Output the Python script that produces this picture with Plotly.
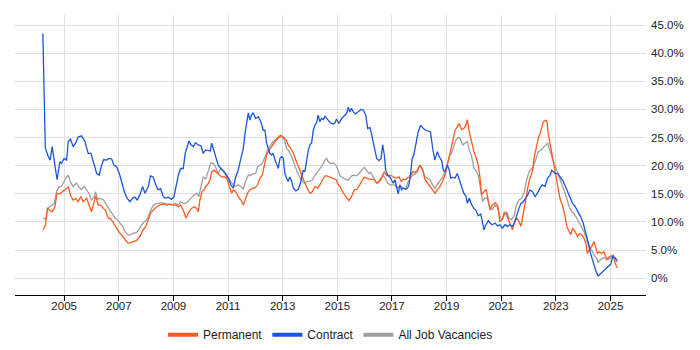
import plotly.graph_objects as go

# ---- data (decimal years, percent) ----
perm_x = [2004.23, 2004.32, 2004.39, 2004.48, 2004.56, 2004.66, 2004.74, 2004.84, 2004.93, 2005.03,
          2005.15, 2005.25, 2005.33, 2005.42, 2005.51, 2005.61, 2005.70, 2005.82, 2005.90, 2006.00,
          2006.10, 2006.15, 2006.25, 2006.34, 2006.43, 2006.51, 2006.61, 2006.71, 2006.77, 2006.86,
          2006.94, 2007.04, 2007.14, 2007.22, 2007.34, 2007.43, 2007.53, 2007.65, 2007.77, 2007.89,
          2007.99, 2008.08, 2008.16, 2008.26, 2008.38, 2008.50, 2008.63, 2008.75, 2008.87, 2008.99,
          2009.09, 2009.18, 2009.26, 2009.36, 2009.46, 2009.57, 2009.66, 2009.76, 2009.85, 2009.91,
          2009.97, 2010.05, 2010.13, 2010.18, 2010.25, 2010.34, 2010.40, 2010.49, 2010.58, 2010.66,
          2010.76, 2010.86, 2010.95, 2011.03, 2011.13, 2011.19, 2011.28, 2011.37, 2011.47, 2011.56,
          2011.64, 2011.71, 2011.80, 2011.89, 2011.98, 2012.08, 2012.17, 2012.25, 2012.33, 2012.41,
          2012.51, 2012.59, 2012.65, 2012.75, 2012.84, 2012.92, 2013.02, 2013.12, 2013.20, 2013.29,
          2013.39, 2013.48, 2013.57, 2013.66, 2013.73, 2013.81, 2013.90, 2014.00, 2014.09, 2014.18,
          2014.27, 2014.36, 2014.46, 2014.55, 2014.63, 2014.73, 2014.83, 2014.95, 2015.05, 2015.10,
          2015.22, 2015.34, 2015.42, 2015.52, 2015.62, 2015.71, 2015.79, 2015.89, 2015.99, 2016.07,
          2016.16, 2016.25, 2016.35, 2016.44, 2016.52, 2016.62, 2016.72, 2016.80, 2016.89, 2016.99,
          2017.08, 2017.17, 2017.26, 2017.33, 2017.41, 2017.50, 2017.57, 2017.66, 2017.76, 2017.84,
          2017.93, 2018.02, 2018.12, 2018.21, 2018.29, 2018.39, 2018.49, 2018.57, 2018.66, 2018.76,
          2018.85, 2018.94, 2019.03, 2019.10, 2019.18, 2019.24, 2019.31, 2019.39, 2019.46, 2019.55,
          2019.63, 2019.71, 2019.76, 2019.83, 2019.92, 2020.00, 2020.07, 2020.16, 2020.22, 2020.28,
          2020.37, 2020.44, 2020.50, 2020.59, 2020.67, 2020.77, 2020.87, 2020.95, 2021.04, 2021.11,
          2021.20, 2021.28, 2021.36, 2021.41, 2021.48, 2021.56, 2021.65, 2021.72, 2021.81, 2021.89,
          2021.97, 2022.05, 2022.14, 2022.21, 2022.30, 2022.36, 2022.42, 2022.48, 2022.54, 2022.63,
          2022.68, 2022.72, 2022.79, 2022.87, 2022.94, 2022.99, 2023.07, 2023.15, 2023.24, 2023.33,
          2023.40, 2023.46, 2023.54, 2023.61, 2023.70, 2023.79, 2023.86, 2023.94, 2024.03, 2024.10,
          2024.15, 2024.22, 2024.31, 2024.40, 2024.47, 2024.52, 2024.59, 2024.68, 2024.76, 2024.86,
          2024.96, 2025.04, 2025.10, 2025.17, 2025.25]
perm_y = [8.6, 9.5, 12.4, 12.1, 11.8, 12.7, 15.1, 15.0, 15.4, 15.7,
          16.2, 14.5, 13.9, 14.2, 13.6, 14.5, 13.6, 14.2, 13.0, 11.8,
          13.6, 14.6, 13.0, 13.0, 12.4, 12.1, 10.7, 10.5, 10.1, 9.2,
          8.7, 8.0, 7.4, 6.8, 6.2, 6.3, 6.5, 6.7, 7.4, 8.6,
          9.2, 10.4, 11.5, 12.1, 12.7, 13.0, 13.2, 13.0, 13.2, 13.0,
          13.0, 12.7, 13.0, 12.1, 10.7, 11.8, 12.4, 12.7, 12.4, 11.8,
          13.9, 15.4, 15.7, 16.3, 16.6, 17.5, 18.9, 19.2, 18.8, 18.3,
          18.0, 18.0, 17.8, 16.6, 15.1, 15.7, 15.4, 14.5, 13.9, 13.0,
          14.2, 15.1, 15.7, 16.0, 16.0, 16.6, 17.8, 18.3, 20.1, 21.9,
          22.8, 23.4, 23.7, 24.6, 25.1, 25.4, 25.1, 24.6, 23.7, 23.1,
          22.2, 21.0, 19.8, 18.6, 17.8, 16.9, 16.0, 15.1, 15.4, 16.3,
          16.0, 16.6, 17.5, 18.2, 18.2, 17.9, 17.8, 17.5, 16.5, 16.3,
          15.1, 14.2, 13.8, 14.5, 15.7, 15.8, 16.3, 17.2, 17.9, 17.8,
          17.6, 17.6, 17.5, 16.9, 17.2, 17.9, 18.9, 18.2, 18.3, 18.2,
          17.9, 17.8, 18.0, 17.2, 17.6, 17.5, 17.9, 18.0, 18.9, 18.8,
          19.2, 20.1, 19.2, 17.5, 16.9, 16.3, 15.7, 15.1, 15.7, 16.3,
          17.2, 18.3, 20.1, 21.6, 23.1, 24.6, 26.3, 26.9, 27.5, 26.4,
          26.6, 27.2, 28.2, 26.0, 24.0, 22.5, 21.6, 20.1, 18.0, 14.8,
          15.4, 15.8, 14.5, 12.1, 13.0, 13.4, 13.0, 10.1, 10.4, 11.8,
          11.2, 10.1, 9.2, 8.6, 9.8, 10.7, 10.1, 9.2, 11.5, 14.2,
          16.0, 17.8, 18.9, 21.6, 23.7, 24.9, 25.7, 26.9, 27.8, 28.1,
          27.8, 25.7, 24.0, 21.9, 20.1, 18.6, 16.3, 14.2, 13.0, 11.2,
          9.2, 8.6, 7.7, 8.9, 8.3, 7.4, 7.9, 7.7, 7.1, 6.2,
          4.4, 5.0, 5.6, 6.5, 5.3, 4.4, 4.7, 4.4, 4.7, 3.3,
          3.8, 4.0, 4.1, 2.7, 1.8]

cont_x = [2004.22, 2004.31, 2004.42, 2004.49, 2004.56, 2004.66, 2004.74, 2004.84, 2004.90, 2005.00,
          2005.09, 2005.15, 2005.23, 2005.33, 2005.42, 2005.51, 2005.64, 2005.76, 2005.88, 2005.98,
          2006.06, 2006.19, 2006.28, 2006.37, 2006.45, 2006.55, 2006.64, 2006.74, 2006.82, 2006.92,
          2007.02, 2007.10, 2007.22, 2007.31, 2007.41, 2007.50, 2007.59, 2007.67, 2007.77, 2007.87,
          2007.96, 2008.08, 2008.16, 2008.26, 2008.35, 2008.44, 2008.53, 2008.63, 2008.69, 2008.81,
          2008.93, 2009.02, 2009.09, 2009.18, 2009.26, 2009.36, 2009.43, 2009.51, 2009.57, 2009.64,
          2009.73, 2009.81, 2009.91, 2010.01, 2010.09, 2010.18, 2010.27, 2010.35, 2010.40, 2010.46,
          2010.52, 2010.58, 2010.64, 2010.74, 2010.82, 2010.91, 2011.01, 2011.10, 2011.19, 2011.27,
          2011.37, 2011.47, 2011.56, 2011.62, 2011.68, 2011.74, 2011.80, 2011.86, 2011.92, 2012.01,
          2012.11, 2012.20, 2012.29, 2012.35, 2012.41, 2012.47, 2012.53, 2012.59, 2012.65, 2012.72,
          2012.78, 2012.84, 2012.90, 2012.96, 2013.02, 2013.08, 2013.14, 2013.20, 2013.26, 2013.33,
          2013.39, 2013.48, 2013.57, 2013.63, 2013.69, 2013.75, 2013.81, 2013.87, 2013.94, 2014.00,
          2014.06, 2014.12, 2014.18, 2014.24, 2014.30, 2014.36, 2014.42, 2014.49, 2014.55, 2014.61,
          2014.67, 2014.75, 2014.85, 2014.91, 2014.97, 2015.06, 2015.16, 2015.25, 2015.34, 2015.40,
          2015.46, 2015.52, 2015.58, 2015.67, 2015.77, 2015.86, 2015.95, 2016.04, 2016.11, 2016.19,
          2016.25, 2016.32, 2016.38, 2016.44, 2016.52, 2016.60, 2016.66, 2016.72, 2016.77, 2016.84,
          2016.93, 2016.99, 2017.05, 2017.11, 2017.17, 2017.23, 2017.29, 2017.35, 2017.41, 2017.50,
          2017.57, 2017.62, 2017.69, 2017.74, 2017.80, 2017.88, 2017.96, 2018.05, 2018.15, 2018.24,
          2018.33, 2018.41, 2018.49, 2018.57, 2018.66, 2018.73, 2018.82, 2018.88, 2018.94, 2019.03,
          2019.10, 2019.15, 2019.22, 2019.31, 2019.39, 2019.46, 2019.55, 2019.63, 2019.71, 2019.76,
          2019.83, 2019.92, 2020.00, 2020.07, 2020.16, 2020.25, 2020.32, 2020.37, 2020.44, 2020.53,
          2020.59, 2020.67, 2020.77, 2020.87, 2020.95, 2021.04, 2021.14, 2021.23, 2021.32, 2021.41,
          2021.48, 2021.56, 2021.63, 2021.72, 2021.81, 2021.89, 2021.97, 2022.05, 2022.14, 2022.24,
          2022.33, 2022.42, 2022.50, 2022.60, 2022.70, 2022.79, 2022.85, 2022.91, 2022.99, 2023.07,
          2023.15, 2023.27, 2023.40, 2023.52, 2023.61, 2023.70, 2023.82, 2023.91, 2024.00, 2024.10,
          2024.19, 2024.27, 2024.37, 2024.47, 2024.55, 2024.68, 2024.80, 2024.92, 2025.01, 2025.08,
          2025.17, 2025.25]
cont_y = [43.5, 23.1, 21.6, 21.0, 23.4, 19.8, 17.5, 20.7, 20.4, 21.3,
          21.0, 24.3, 24.7, 23.4, 24.0, 25.1, 25.3, 24.3, 22.2, 22.2,
          20.7, 18.6, 18.3, 20.1, 21.1, 21.0, 21.3, 21.2, 20.1, 19.8,
          18.6, 17.2, 15.1, 14.2, 13.6, 14.2, 14.4, 13.9, 14.8, 16.3,
          15.1, 16.3, 18.2, 18.0, 16.6, 15.7, 15.9, 14.5, 14.2, 14.4,
          14.0, 14.5, 16.3, 18.3, 19.5, 19.5, 22.2, 23.6, 24.4, 23.7,
          23.4, 24.1, 23.7, 23.5, 22.2, 22.8, 22.7, 22.6, 24.0, 23.1,
          22.2, 21.0, 20.1, 19.5, 19.1, 18.6, 17.8, 16.6, 16.0, 17.8,
          19.2, 21.0, 23.1, 25.7, 28.1, 29.4, 28.1, 29.0, 29.4, 28.4,
          28.7, 27.8, 26.3, 26.3, 24.0, 23.1, 22.2, 21.9, 22.2, 21.0,
          20.1, 19.5, 21.3, 21.6, 21.3, 18.6, 17.8, 17.2, 18.0, 17.2,
          16.0, 15.5, 15.8, 16.6, 17.8, 19.2, 18.9, 20.7, 22.8, 23.7,
          24.1, 26.3, 27.2, 27.6, 29.0, 27.8, 28.4, 28.2, 28.8, 28.4,
          28.1, 27.6, 27.4, 27.6, 28.3, 27.5, 28.4, 28.8, 29.3, 30.4,
          29.6, 30.2, 29.6, 29.2, 29.6, 30.0, 29.9, 29.0, 26.6, 26.8,
          25.7, 24.0, 22.5, 21.3, 20.9, 21.3, 23.7, 21.9, 19.2, 18.3,
          17.9, 17.5, 16.9, 17.5, 16.0, 15.0, 16.6, 15.7, 16.0, 15.8,
          16.0, 16.6, 18.9, 21.3, 21.9, 24.0, 26.0, 27.2, 26.6, 26.3,
          26.2, 26.0, 23.1, 21.0, 22.5, 21.6, 20.9, 19.2, 18.9, 20.1,
          19.2, 17.8, 17.9, 17.8, 18.6, 17.5, 16.0, 15.1, 14.6, 13.3,
          14.2, 13.0, 12.4, 12.1, 11.1, 11.4, 9.8, 8.6, 9.5, 10.2,
          9.8, 9.5, 9.8, 9.3, 9.5, 8.9, 9.5, 9.2, 9.5, 9.2,
          9.8, 11.2, 12.1, 13.3, 13.6, 14.2, 14.8, 15.7, 15.4, 14.5,
          15.1, 16.0, 16.6, 16.3, 17.8, 18.3, 19.2, 18.9, 18.6, 18.6,
          18.0, 17.2, 15.7, 14.5, 13.3, 12.8, 11.8, 10.9, 9.8, 8.0,
          6.2, 4.4, 2.7, 1.2, 0.4, 1.0, 1.5, 2.1, 2.5, 3.8,
          3.6, 3.1]

all_x = [2004.23, 2004.32, 2004.39, 2004.51, 2004.64, 2004.72, 2004.81, 2004.90, 2005.03, 2005.15,
         2005.25, 2005.33, 2005.45, 2005.54, 2005.64, 2005.73, 2005.82, 2005.90, 2006.00, 2006.10,
         2006.15, 2006.22, 2006.31, 2006.43, 2006.55, 2006.67, 2006.77, 2006.86, 2006.94, 2007.04,
         2007.14, 2007.22, 2007.34, 2007.43, 2007.53, 2007.65, 2007.77, 2007.89, 2008.02, 2008.11,
         2008.20, 2008.28, 2008.38, 2008.48, 2008.57, 2008.69, 2008.81, 2008.93, 2009.05, 2009.18,
         2009.26, 2009.36, 2009.46, 2009.57, 2009.66, 2009.76, 2009.85, 2009.93, 2010.01, 2010.09,
         2010.18, 2010.27, 2010.37, 2010.46, 2010.54, 2010.64, 2010.74, 2010.82, 2010.91, 2011.01,
         2011.10, 2011.19, 2011.27, 2011.37, 2011.47, 2011.56, 2011.64, 2011.74, 2011.84, 2011.92,
         2012.01, 2012.08, 2012.17, 2012.25, 2012.33, 2012.39, 2012.47, 2012.56, 2012.65, 2012.75,
         2012.84, 2012.92, 2013.02, 2013.08, 2013.14, 2013.24, 2013.33, 2013.39, 2013.45, 2013.53,
         2013.63, 2013.73, 2013.81, 2013.90, 2014.00, 2014.09, 2014.18, 2014.27, 2014.36, 2014.46,
         2014.55, 2014.61, 2014.67, 2014.75, 2014.85, 2014.95, 2015.03, 2015.10, 2015.22, 2015.34,
         2015.42, 2015.52, 2015.62, 2015.71, 2015.79, 2015.89, 2015.99, 2016.07, 2016.16, 2016.23,
         2016.32, 2016.40, 2016.50, 2016.60, 2016.68, 2016.74, 2016.84, 2016.93, 2017.01, 2017.11,
         2017.17, 2017.26, 2017.33, 2017.41, 2017.50, 2017.57, 2017.66, 2017.76, 2017.84, 2017.93,
         2018.02, 2018.12, 2018.21, 2018.29, 2018.39, 2018.49, 2018.57, 2018.66, 2018.76, 2018.85,
         2018.94, 2019.03, 2019.10, 2019.18, 2019.27, 2019.34, 2019.43, 2019.49, 2019.59, 2019.67,
         2019.76, 2019.83, 2019.92, 2020.00, 2020.07, 2020.16, 2020.25, 2020.32, 2020.40, 2020.49,
         2020.59, 2020.67, 2020.77, 2020.87, 2020.95, 2021.04, 2021.11, 2021.20, 2021.28, 2021.38,
         2021.48, 2021.56, 2021.65, 2021.75, 2021.85, 2021.93, 2022.02, 2022.09, 2022.17, 2022.26,
         2022.36, 2022.46, 2022.54, 2022.63, 2022.70, 2022.79, 2022.87, 2022.97, 2023.07, 2023.15,
         2023.27, 2023.40, 2023.49, 2023.58, 2023.66, 2023.76, 2023.86, 2023.94, 2024.03, 2024.13,
         2024.23, 2024.31, 2024.40, 2024.49, 2024.55, 2024.64, 2024.74, 2024.83, 2024.92, 2025.01,
         2025.08, 2025.17, 2025.25]
all_y = [10.7, 10.4, 12.4, 12.8, 13.3, 15.4, 16.2, 16.3, 17.5, 18.3,
         16.9, 16.3, 16.9, 16.2, 15.7, 16.3, 15.7, 15.1, 13.9, 14.5,
         15.4, 14.0, 14.2, 14.0, 13.0, 12.1, 11.5, 10.7, 10.4, 9.8,
         9.2, 8.3, 7.7, 7.7, 8.0, 8.1, 8.9, 9.8, 10.4, 11.5,
         12.4, 13.0, 13.3, 13.3, 13.4, 13.3, 13.2, 13.0, 13.3, 13.0,
         13.6, 13.3, 13.3, 13.9, 14.2, 14.8, 15.1, 14.5, 16.3, 18.0,
         17.6, 18.9, 20.5, 20.4, 19.8, 18.6, 19.5, 19.2, 18.3, 17.8,
         17.2, 16.6, 16.3, 16.6, 16.3, 15.8, 17.2, 18.3, 18.3, 18.6,
         18.6, 19.8, 20.1, 20.4, 21.3, 22.2, 23.1, 23.7, 24.3, 24.6,
         24.9, 25.1, 24.9, 24.3, 23.1, 22.5, 21.6, 20.7, 19.8, 18.9,
         17.9, 17.2, 16.9, 17.2, 17.2, 17.5, 18.3, 18.9, 19.5, 20.1,
         21.0, 21.3, 20.7, 20.4, 20.5, 20.1, 19.2, 18.2, 17.8, 17.5,
         17.5, 18.2, 18.3, 18.2, 18.6, 19.2, 19.7, 19.2, 18.6, 18.8,
         17.8, 17.2, 16.9, 17.5, 18.3, 17.9, 16.9, 16.6, 16.6, 16.6,
         16.0, 16.3, 16.3, 16.0, 15.8, 16.9, 17.6, 18.3, 18.5, 18.8,
         20.1, 19.5, 18.0, 17.8, 17.5, 16.6, 16.0, 16.7, 17.3, 17.9,
         18.9, 20.4, 21.6, 22.2, 23.4, 24.6, 25.0, 24.9, 23.7, 24.0,
         24.3, 22.8, 21.6, 19.5, 19.2, 18.3, 16.0, 13.6, 14.3, 14.2,
         12.4, 12.2, 13.0, 12.6, 10.9, 10.5, 11.2, 11.8, 10.7, 10.4,
         11.2, 13.0, 13.9, 14.2, 15.4, 17.5, 18.9, 19.4, 19.8, 21.0,
         22.5, 22.8, 23.3, 23.7, 24.0, 22.5, 21.3, 20.1, 18.6, 17.5,
         16.0, 14.2, 12.7, 11.8, 11.5, 10.7, 9.9, 9.2, 8.3, 6.8,
         5.6, 5.0, 4.1, 3.6, 2.8, 3.3, 3.6, 3.6, 3.3, 3.6,
         4.0, 3.3, 2.8]

series_names = ["Permanent", "Contract", "All Job Vacancies"]
series_colors = ["#ff5a1f", "#1a56db", "#a0a0a0"]

x_tick_vals = [2005, 2007, 2009, 2011, 2013, 2015, 2017, 2019, 2021, 2023, 2025]
x_tick_text = [str(v) for v in x_tick_vals]
y_tick_vals = [0, 5, 10, 15, 20, 25, 30, 35, 40, 45]
y_tick_text = ["0%"] + [f"{v:.1f}%" for v in y_tick_vals[1:]]

fig = go.Figure()
data = [(perm_x, perm_y), (cont_x, cont_y), (all_x, all_y)]
# draw order: All (back), Permanent, Contract
for idx in [2, 0, 1]:
    xs, ys = data[idx]
    fig.add_trace(go.Scatter(x=xs, y=ys, mode="lines", name=series_names[idx],
                             line=dict(color=series_colors[idx], width=1.3),
                             showlegend=False, hoverinfo="skip"))
# legend entries
for idx in range(3):
    fig.add_trace(go.Scatter(x=[None], y=[None], mode="lines", name=series_names[idx],
                             line=dict(color=series_colors[idx], width=4)))

# the page body has an 8px default margin, so the figure is sized to fit the 700x350 window
font_family = "Liberation Sans, Arial, sans-serif"
fig.update_layout(
    width=692, height=342,
    margin=dict(l=7, r=54, t=7, b=55, autoexpand=False),
    paper_bgcolor="white", plot_bgcolor="white",
    font=dict(family=font_family, size=12, color="#333"),
    showlegend=True,
    legend=dict(orientation="h", x=0.5, xanchor="center", y=-0.09, yanchor="top",
                font=dict(size=12, color="#222"), itemwidth=30, traceorder="normal"),
)
fig.update_xaxes(range=[2003.2, 2026.3], tickvals=x_tick_vals, ticktext=x_tick_text,
                 showgrid=True, gridcolor="#e0e0e0", gridwidth=1, automargin=False,
                 showline=True, linecolor="#000", linewidth=1,
                 ticks="outside", ticklen=5, tickcolor="#000", ticklabelstandoff=-5,
                 zeroline=False, tickfont=dict(size=11.5, color="#222"))
fig.update_yaxes(range=[-3.0, 46.8], side="right", tickvals=y_tick_vals, ticktext=y_tick_text,
                 showgrid=True, gridcolor="#e0e0e0", gridwidth=1, automargin=False,
                 showline=False, zeroline=False, ticks="", ticklabelstandoff=4,
                 tickfont=dict(size=11.5, color="#222"))

fig.write_html("out.html")
